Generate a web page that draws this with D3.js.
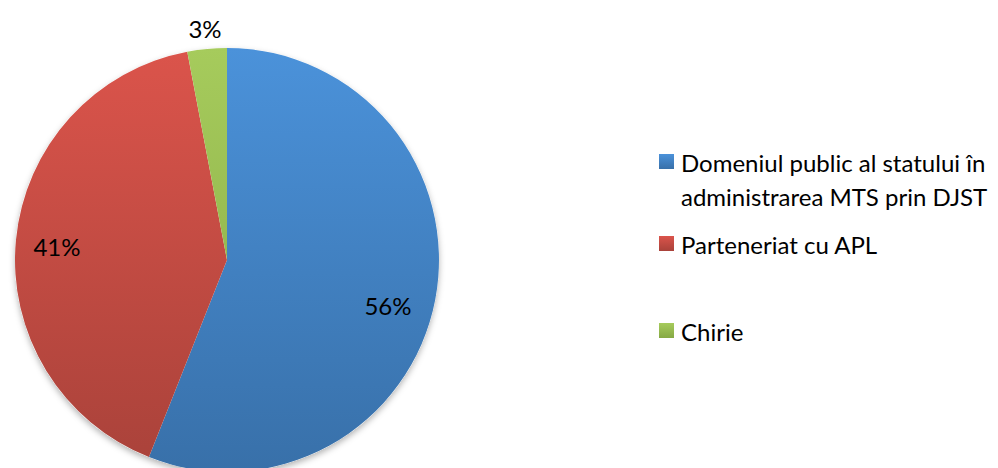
<!DOCTYPE html>
<html><head><meta charset="utf-8">
<script src="https://cdn.jsdelivr.net/npm/d3@7"></script>
<style>body{margin:0;background:#fff}svg{display:block}</style>
</head><body>
<script>
const categories = ["Domeniul public al statului în administrarea MTS prin DJST", "Parteneriat cu APL", "Chirie"];
const values = [56, 41, 3];
const labels = ["56%", "41%", "3%"];
const legendLines = [["Domeniul public al statului în", "administrarea MTS prin DJST"], ["Parteneriat cu APL"], ["Chirie"]];
const colorsTop = ["#4b92da", "#db544b", "#a6cb5c"];
const colorsBottom = ["#3870a9", "#a9423a", "#86a944"];

const W = 998, H = 468;
const cx = 227, cy = 260, r = 212;
const font = "Lato, 'Open Sans', sans-serif";

const svg = d3.select("body").append("svg").attr("width", W).attr("height", H);
const defs = svg.append("defs");
colorsTop.forEach((c, i) => {
  const g = defs.append("linearGradient").attr("id", "g" + i)
    .attr("gradientUnits", "userSpaceOnUse").attr("x1", 0).attr("y1", -r).attr("x2", 0).attr("y2", r);
  g.append("stop").attr("offset", 0).attr("stop-color", c);
  g.append("stop").attr("offset", 1).attr("stop-color", colorsBottom[i]);
  const lg = defs.append("linearGradient").attr("id", "lg" + i).attr("x1", 0).attr("y1", 0).attr("x2", 0).attr("y2", 1);
  lg.append("stop").attr("offset", 0).attr("stop-color", c);
  lg.append("stop").attr("offset", 1).attr("stop-color", colorsBottom[i]);
});
const f = defs.append("filter").attr("id", "sh").attr("x", "-10%").attr("y", "-10%").attr("width", "120%").attr("height", "120%");
f.append("feDropShadow").attr("dx", 0).attr("dy", 3).attr("stdDeviation", 3).attr("flood-color", "#000").attr("flood-opacity", 0.3);

const pie = d3.pie().sort(null).value(d => d);
const arcs = pie(values);
const arc = d3.arc().innerRadius(0).outerRadius(r);
const g = svg.append("g").attr("transform", `translate(${cx},${cy})`);
g.append("circle").attr("r", r).attr("fill", "#fff").attr("filter", "url(#sh)");
g.selectAll("path.slice").data(arcs).join("path").attr("class", "slice")
  .attr("d", arc).attr("fill", (d, i) => `url(#g${i})`);

const labelPos = [[388, 305], [57, 246], [205, 28]];
svg.selectAll("text.lbl").data(labels).join("text").attr("class", "lbl")
  .attr("x", (d, i) => labelPos[i][0]).attr("y", (d, i) => labelPos[i][1])
  .attr("text-anchor", "middle").attr("dominant-baseline", "central")
  .attr("font-family", font).attr("font-size", 24).attr("fill", "#000").text(d => d);

const legendY = [162, 244, 331];
const lg = svg.append("g");
categories.forEach((c, i) => {
  lg.append("rect").attr("x", 659).attr("y", legendY[i] - 8).attr("width", 15).attr("height", 15)
    .attr("fill", `url(#lg${i})`);
  legendLines[i].forEach((t, j) => {
    lg.append("text").attr("x", 681).attr("y", legendY[i] + j * 34)
      .attr("dominant-baseline", "central").attr("font-family", font).attr("font-size", 24)
      .attr("fill", "#000").text(t);
  });
});
</script>
</body></html>
